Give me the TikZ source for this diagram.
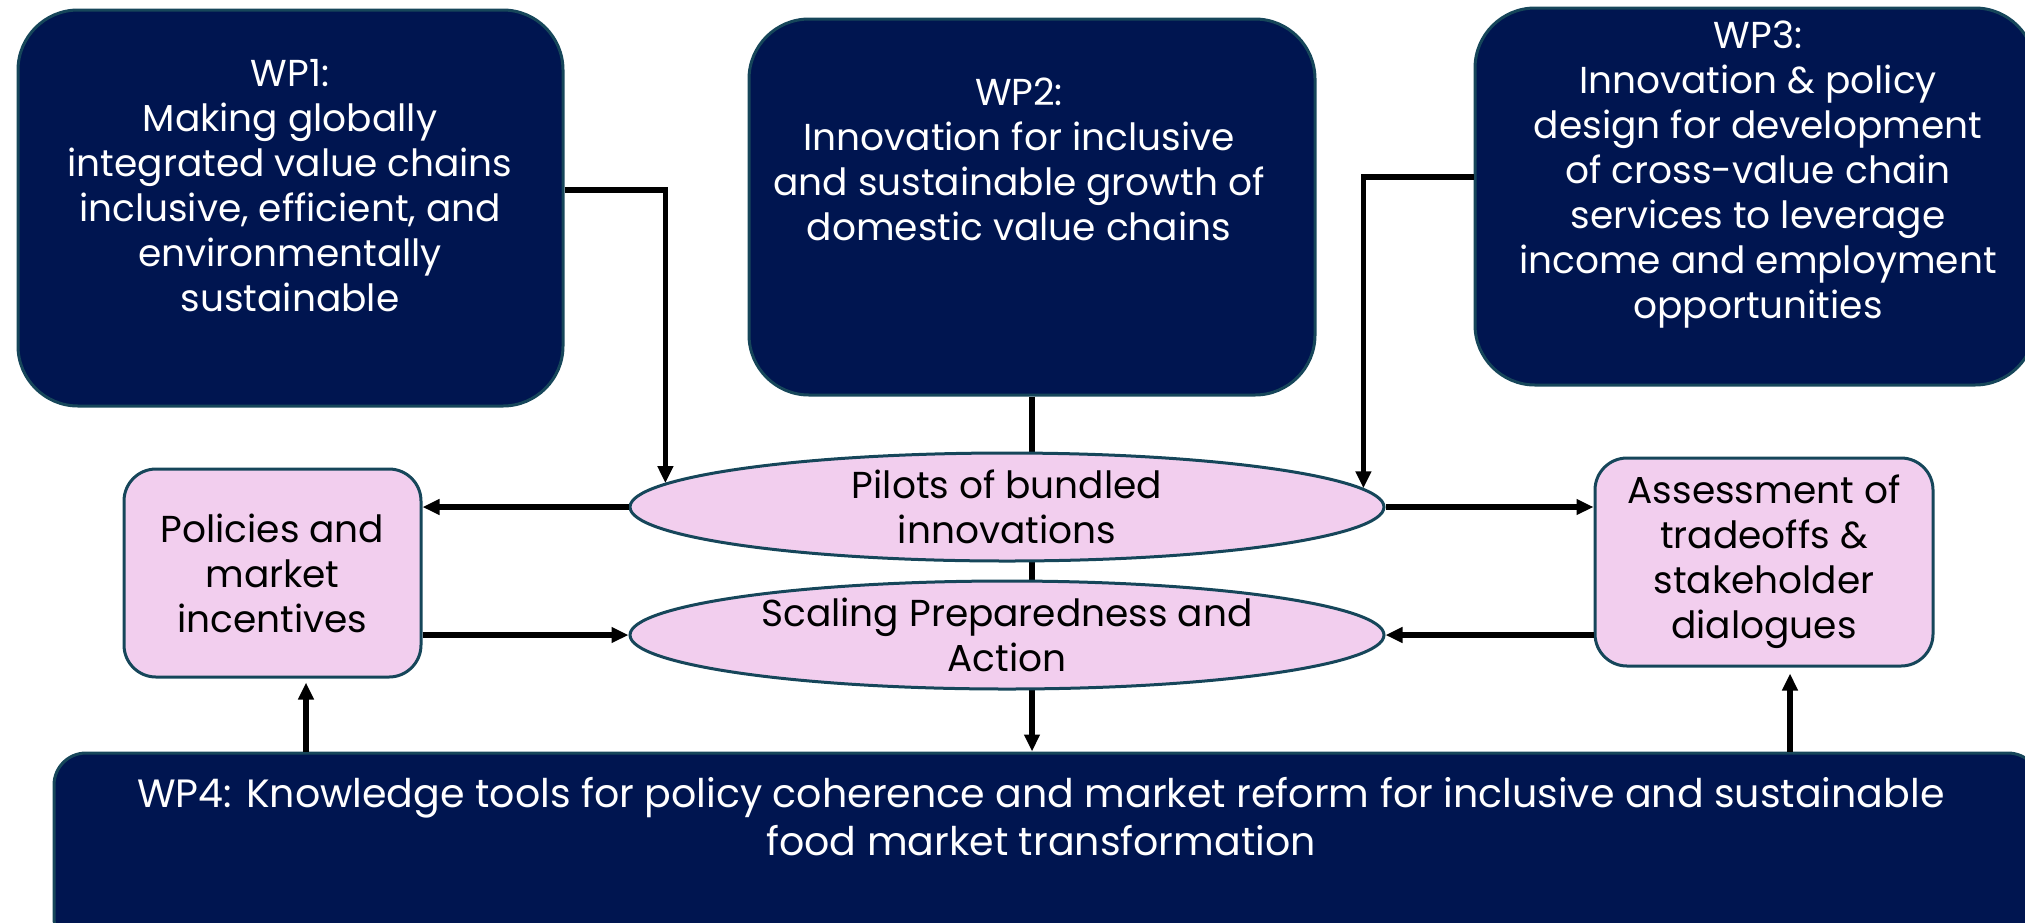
\documentclass[tikz,border=0pt]{standalone}
\usepackage{fontspec}
\setmainfont{Poppins}
\usetikzlibrary{shapes.geometric,arrows.meta,backgrounds}
\definecolor{wpnavy}{RGB}{0,21,80}
\definecolor{wpborder}{RGB}{22,70,90}
\definecolor{wppink}{RGB}{242,206,238}
\tikzset{
navyboxv1/.style={rectangle, rounded corners=60pt, draw=wpborder, fill=wpnavy, line width=3pt, inner sep=0pt},
navyboxv2/.style={rectangle, rounded corners=32pt, draw=wpborder, fill=wpnavy, line width=3pt, inner sep=0pt},
pinkboxv1/.style={rectangle, rounded corners=32pt, draw=wpborder, fill=wppink, line width=3pt, inner sep=0pt, align=center, font=\fontsize{37.5}{45}\selectfont},
pinkellipsev1/.style={ellipse, draw=wpborder, fill=wppink, line width=3pt, inner sep=0pt, minimum width=754pt, minimum height=108pt, align=center, font=\fontsize{37.5}{45}\selectfont},
whitetextv1/.style={text=white, align=center, inner sep=0pt, font=\fontsize{37.5}{45}\selectfont},
arrowv1/.style={line width=5.5pt, black, -{Triangle[length=17pt,width=15pt]}},
}
\begin{document}
\begin{tikzpicture}[x=1pt,y=-1pt]
\useasboundingbox (0,0) rectangle (2025,922);
\clip (0,0) rectangle (2025,922);
% work packages
\node[navyboxv1, minimum width=545pt, minimum height=396pt] at (290.5,208) (wp1box) {};
\node[navyboxv1, minimum width=566pt, minimum height=376pt] at (1032,207) (wp2box) {};
\node[navyboxv1, minimum width=560pt, minimum height=377pt] at (1755,196.5) (wp3box) {};
\node[navyboxv2, minimum width=1986pt, minimum height=197pt] at (1047,851.5) (wp4box) {};
\node[whitetextv1] at (290,185.5) (wp1text) {WP1:\\Making globally\\integrated value chains\\inclusive, efficient, and\\environmentally\\sustainable};
\node[whitetextv1] at (1019,159.5) (wp2text) {WP2:\\Innovation for inclusive\\and sustainable growth of\\domestic value chains};
\node[whitetextv1] at (1758,175) (wp3text) {WP3:\\Innovation \& policy\\design for development\\of cross-value chain\\services to leverage\\income and employment\\opportunities};
\node[whitetextv1, font=\fontsize{39.5}{48}\selectfont] at (1041,816.5) (wp4text) {WP4: Knowledge tools for policy coherence and market reform for inclusive and sustainable\\food market transformation};
% middle row
\node[pinkboxv1, minimum width=297pt, minimum height=208pt] at (272.5,573) (policies) {Policies and\\market\\incentives};
\node[pinkboxv1, minimum width=338pt, minimum height=208pt] at (1764,562) (assessment) {Assessment of\\tradeoffs \&\\stakeholder\\dialogues};
\node[pinkellipsev1] at (1007,507) (pilots) {Pilots of bundled\\innovations};
\node[pinkellipsev1] at (1007,635) (scaling) {Scaling Preparedness and\\Action};
\begin{scope}[on background layer]
\draw[arrowv1] (wp2box.south) -- (wp2box.south |- wp4box.north);
\end{scope}
\draw[arrowv1] (wp1box.east |- 0,190) -| (pilots.176);
\draw[arrowv1] (wp3box.west |- 0,177) -| (pilots.3);
\draw[arrowv1] (pilots.west) -- (pilots.west -| policies.east);
\draw[arrowv1] (pilots.east) -- (pilots.east -| assessment.west);
\draw[arrowv1] (policies.east |- scaling.west) -- (scaling.west);
\draw[arrowv1] (assessment.west |- scaling.east) -- (scaling.east);
\draw[arrowv1, shorten >=4pt] (wp4box.north -| 306,0) -- (policies.south -| 306,0);
\draw[arrowv1, shorten >=6pt] (wp4box.north -| 1790,0) -- (assessment.south -| 1790,0);
\end{tikzpicture}
\end{document}
